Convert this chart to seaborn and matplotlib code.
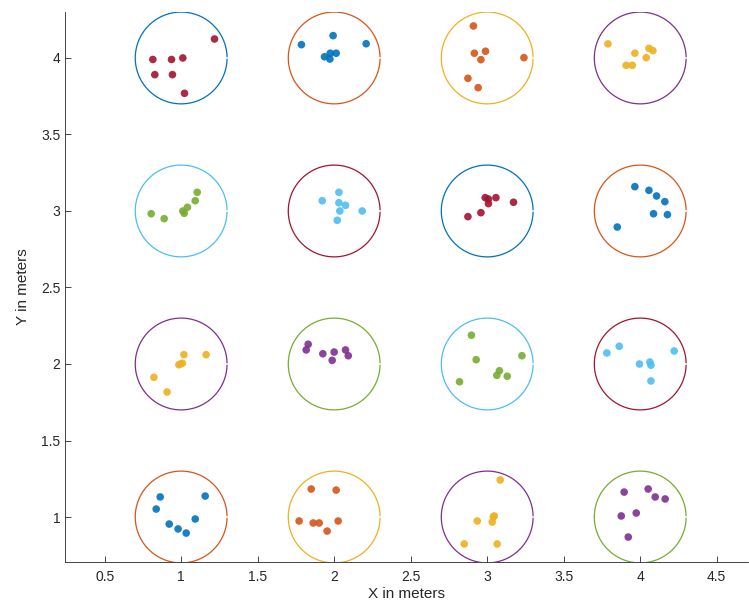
import numpy as np
import pandas as pd
import seaborn as sns
import matplotlib.pyplot as plt

# MATLAB default colour order
BLUE, ORANGE, YELLOW, PURPLE = "#0072BD", "#D95319", "#EDB120", "#7E2F8E"
GREEN, LBLUE, RED = "#77AC30", "#4DBEEE", "#A2142F"

radius = 0.3
x_ticks = [0.5, 1, 1.5, 2, 2.5, 3, 3.5, 4, 4.5]
y_ticks = [1, 1.5, 2, 2.5, 3, 3.5, 4]

# cell centres (col, row)
cell_cx = [1, 2, 3, 4, 1, 2, 3, 4, 1, 2, 3, 4, 1, 2, 3, 4]
cell_cy = [4, 4, 4, 4, 3, 3, 3, 3, 2, 2, 2, 2, 1, 1, 1, 1]
circle_colors = [BLUE, ORANGE, YELLOW, PURPLE,
                 LBLUE, RED, BLUE, ORANGE,
                 PURPLE, GREEN, LBLUE, RED,
                 ORANGE, YELLOW, PURPLE, GREEN]
point_colors = [RED, BLUE, ORANGE, YELLOW,
                GREEN, LBLUE, RED, BLUE,
                YELLOW, PURPLE, GREEN, LBLUE,
                BLUE, ORANGE, YELLOW, PURPLE]

# points per cell
x_1_4 = [0.815, 0.937, 1.011, 0.828, 0.943, 1.022, 1.218]
y_1_4 = [3.990, 3.990, 4.000, 3.891, 3.891, 3.769, 4.124]
x_2_4 = [1.786, 1.993, 2.209, 1.937, 1.974, 2.013, 1.972]
y_2_4 = [4.087, 4.146, 4.093, 4.008, 4.031, 4.031, 3.993]
x_3_4 = [2.910, 2.916, 2.989, 2.959, 3.240, 2.874, 2.941]
y_3_4 = [4.209, 4.031, 4.044, 3.989, 4.002, 3.867, 3.806]
x_4_4 = [3.789, 3.965, 4.057, 4.083, 4.039, 3.908, 3.948]
y_4_4 = [4.092, 4.031, 4.063, 4.048, 4.002, 3.952, 3.952]

x_1_3 = [0.804, 0.889, 1.011, 1.020, 1.041, 1.092, 1.105]
y_1_3 = [2.982, 2.950, 3.000, 2.985, 3.024, 3.067, 3.122]
x_2_3 = [1.922, 2.031, 2.031, 2.074, 2.037, 2.183, 2.020]
y_2_3 = [3.067, 3.122, 3.054, 3.037, 3.000, 3.000, 2.939]
x_3_3 = [2.874, 2.959, 2.987, 3.008, 3.008, 3.057, 3.172]
y_3_3 = [2.963, 2.989, 3.087, 3.078, 3.048, 3.087, 3.057]
x_4_3 = [3.965, 4.057, 4.107, 4.161, 4.087, 4.178, 3.850]
y_4_3 = [3.159, 3.135, 3.098, 3.061, 2.982, 2.976, 2.895]

x_1_2 = [1.018, 1.163, 0.985, 0.995, 1.008, 0.822, 0.908]
y_1_2 = [2.061, 2.061, 1.995, 2.000, 2.005, 1.913, 1.817]
x_2_2 = [1.830, 1.817, 1.926, 2.000, 1.987, 2.074, 2.092]
y_2_2 = [2.129, 2.092, 2.067, 2.078, 2.024, 2.092, 2.054]
x_3_2 = [2.897, 2.928, 3.227, 2.819, 3.080, 3.063, 3.131]
y_3_2 = [2.188, 2.028, 2.054, 1.884, 1.956, 1.926, 1.920]
x_4_2 = [3.782, 3.863, 3.995, 4.063, 4.070, 4.222, 4.070]
y_4_2 = [2.072, 2.116, 2.000, 2.013, 1.992, 2.085, 1.889]

x_1_1 = [0.863, 0.837, 1.157, 0.922, 0.980, 1.033, 1.092]
y_1_1 = [1.131, 1.052, 1.137, 0.954, 0.922, 0.895, 0.987]
x_2_1 = [1.850, 2.013, 1.771, 1.863, 1.902, 1.954, 2.026]
y_2_1 = [1.183, 1.176, 0.974, 0.961, 0.961, 0.908, 0.974]
x_3_1 = [3.085, 3.046, 2.935, 3.033, 2.850, 3.065, 3.040]
y_3_1 = [1.242, 1.007, 0.974, 0.967, 0.824, 0.824, 1.000]
x_4_1 = [3.895, 4.052, 3.974, 4.098, 4.163, 3.876, 3.922]
y_4_1 = [1.163, 1.183, 1.026, 1.131, 1.118, 1.007, 0.869]

cells_x = [x_1_4, x_2_4, x_3_4, x_4_4, x_1_3, x_2_3, x_3_3, x_4_3,
           x_1_2, x_2_2, x_3_2, x_4_2, x_1_1, x_2_1, x_3_1, x_4_1]
cells_y = [y_1_4, y_2_4, y_3_4, y_4_4, y_1_3, y_2_3, y_3_3, y_4_3,
           y_1_2, y_2_2, y_3_2, y_4_2, y_1_1, y_2_1, y_3_1, y_4_1]

rows = []
for i, (xs, ys) in enumerate(zip(cells_x, cells_y)):
    for xv, yv in zip(xs, ys):
        rows.append({"x": xv, "y": yv, "cell": f"c{i}"})
df = pd.DataFrame(rows)
palette = {f"c{i}": point_colors[i] for i in range(16)}

sns.set_style("white")
plt.rcParams["font.family"] = ["Liberation Sans", "DejaVu Sans"]

fig = plt.figure(figsize=(7.49, 6.03), dpi=100)
ax = fig.add_axes([0.087, 0.068, 0.912, 0.912])

theta = np.linspace(0.025, 2 * np.pi - 0.025, 300)
for cx, cy, col in zip(cell_cx, cell_cy, circle_colors):
    ax.plot(cx + radius * np.cos(theta), cy + radius * np.sin(theta),
            color=col, lw=0.9, zorder=1)

sns.scatterplot(data=df, x="x", y="y", hue="cell", palette=palette,
                s=30, linewidth=0, alpha=0.9, legend=False, ax=ax, zorder=2)

ax.set_xlim(0.242, 4.706)
ax.set_ylim(0.706, 4.30)
ax.set_xticks(x_ticks)
ax.set_xticklabels([f"{t:g}" for t in x_ticks])
ax.set_yticks(y_ticks)
ax.set_yticklabels([f"{t:g}" for t in y_ticks])
ax.set_xlabel("X in meters", fontsize=11, color="#262626", labelpad=2)
ax.set_ylabel("Y in meters", fontsize=11, color="#262626", labelpad=8)
ax.tick_params(direction="in", length=4, width=0.6, labelsize=10,
               colors="#262626", left=True, bottom=True)
ax.tick_params(axis="x", pad=6)
for s in ["top", "right"]:
    ax.spines[s].set_visible(False)
for s in ["left", "bottom"]:
    ax.spines[s].set_color("#262626")
    ax.spines[s].set_linewidth(0.6)

fig.savefig("out.png", dpi=100)
